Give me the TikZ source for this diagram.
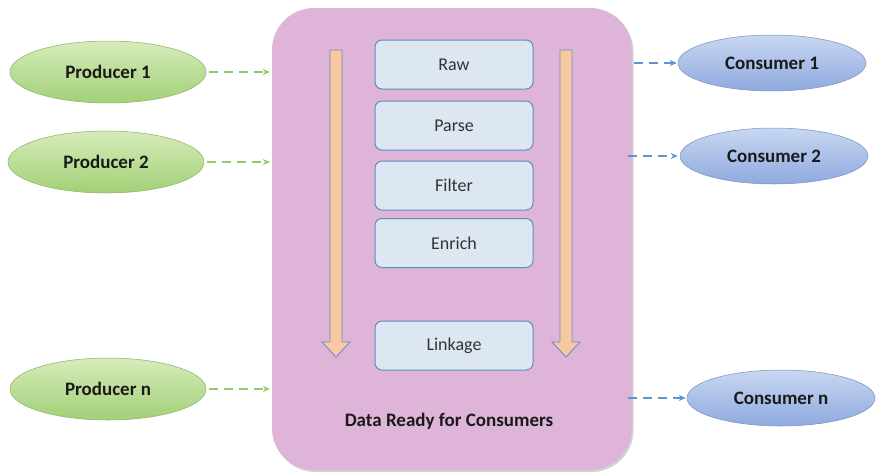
\documentclass[tikz,border=0pt]{standalone}
\usepackage{fontspec}
\setmainfont{Carlito}
\usetikzlibrary{shapes.geometric,arrows.meta,shadows}

\definecolor{prodtop}{HTML}{D6ECBA}
\definecolor{prodbot}{HTML}{A2D077}
\definecolor{constop}{HTML}{C8D7F1}
\definecolor{consbot}{HTML}{8FAADF}
\definecolor{hubfill}{HTML}{DEB4D8}
\definecolor{stagefill}{HTML}{DDE7F2}
\definecolor{stageline}{HTML}{5E8DC0}
\definecolor{flowfill}{HTML}{F8C9A0}
\definecolor{flowline}{HTML}{6C8FC2}
\definecolor{prodlink}{HTML}{8FCB6A}
\definecolor{conslink}{HTML}{5B95D3}
\definecolor{txt}{HTML}{1A1A1A}
\definecolor{stagetxt}{HTML}{333333}

\tikzset{
  producer/.style={ellipse, draw=prodbot!85!black, line width=0.5pt,
    top color=prodtop, bottom color=prodbot, minimum width=196pt,
    minimum height=62pt, inner sep=0pt, text=txt,
    font=\fontsize{19}{22}\selectfont\bfseries},
  consumer/.style={ellipse, draw=consbot!85!black, line width=0.5pt,
    top color=constop, bottom color=consbot, minimum width=188pt,
    minimum height=56pt, inner sep=0pt, text=txt,
    font=\fontsize{19}{22}\selectfont\bfseries},
  stage/.style={rectangle, rounded corners=7pt, draw=stageline,
    line width=1pt, fill=stagefill, minimum width=158pt,
    minimum height=49pt, inner sep=0pt, text=stagetxt,
    font=\fontsize{18}{21}\selectfont},
  inlink/.style={draw=prodlink, line width=1.4pt, dash pattern=on 9pt off 6pt,
    -{Stealth[length=7pt,width=6pt]}},
  outlink/.style={draw=conslink, line width=1.4pt, dash pattern=on 9pt off 6pt,
    -{Stealth[length=7pt,width=6pt]}},
  flow/.style={fill=flowfill, draw=flowline, line width=0.9pt, line join=miter}
}

\begin{document}
\begin{tikzpicture}[x=1pt,y=-1pt]
\useasboundingbox[fill=white] (0,0) rectangle (877,474);

% central processing area
\node[rectangle, rounded corners=42pt, fill=hubfill,
  drop shadow={shadow xshift=1.5pt, shadow yshift=-2pt, opacity=0.35},
  minimum width=360pt, minimum height=462pt, inner sep=0pt]
  (hub) at (452,239) {};

% downward flow arrows on both sides of the stages
\path[flow] (330,50) -- (342,50) -- (342,342) -- (350,342) -- (336,357)
  -- (322,342) -- (330,342) -- cycle;
\path[flow] (560,50) -- (572,50) -- (572,342) -- (580,342) -- (566,357)
  -- (552,342) -- (560,342) -- cycle;

% processing stages
\node[stage] (raw)     at (454,64.5)  {Raw};
\node[stage] (parse)   at (454,125.5) {Parse};
\node[stage] (filter)  at (454,185.5) {Filter};
\node[stage] (enrich)  at (454,243)   {Enrich};
\node[stage] (linkage) at (454,345.5) {Linkage};

\node[text=txt, font=\fontsize{19}{22}\selectfont\bfseries]
  (ready) at (449,421) {Data Ready for Consumers};

% producers
\node[producer] (p1) at (108,72)  {Producer 1};
\node[producer] (p2) at (106,162) {Producer 2};
\node[producer] (pn) at (108,389) {Producer n};

% consumers
\node[consumer] (c1) at (772,63)  {Consumer 1};
\node[consumer] (c2) at (774,156) {Consumer 2};
\node[consumer] (cn) at (781,398) {Consumer n};

% links into and out of the central area
\draw[inlink] ([xshift=3pt]p1.east) -- ([xshift=-2pt]p1.east -| hub.west);
\draw[inlink] ([xshift=3pt]p2.east) -- ([xshift=-2pt]p2.east -| hub.west);
\draw[inlink] ([xshift=3pt]pn.east) -- ([xshift=-2pt]pn.east -| hub.west);

\draw[outlink] ([xshift=2pt]c1.west -| hub.east) -- ([xshift=-1pt]c1.west);
\draw[outlink] ([xshift=-4pt]c2.west -| hub.east) -- ([xshift=-2pt]c2.west);
\draw[outlink] ([xshift=-4pt]cn.west -| hub.east) -- ([xshift=-1pt]cn.west);
\end{tikzpicture}
\end{document}
